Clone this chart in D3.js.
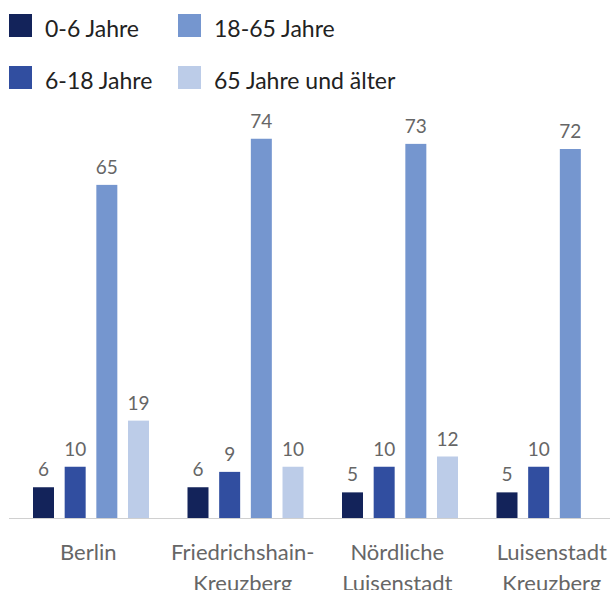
<!DOCTYPE html>
<html>
<head>
<meta charset="utf-8">
<script src="https://cdn.jsdelivr.net/npm/d3@7"></script>
<style>
  body { margin: 0; background: #fff; }
  svg { display: block; font-family: Lato, "Open Sans", sans-serif; }
</style>
</head>
<body>
<svg id="chart" width="610" height="590"></svg>
<script>
// categories (two text lines each)
var categories = ["Berlin", "Friedrichshain-Kreuzberg", "Nördliche Luisenstadt", "Luisenstadt Kreuzberg"];
var categoryLines = [["Berlin"], ["Friedrichshain-", "Kreuzberg"], ["Nördliche", "Luisenstadt"], ["Luisenstadt", "Kreuzberg"]];

// age groups
var series = ["0-6 Jahre", "6-18 Jahre", "18-65 Jahre", "65 Jahre und älter"];
var colors = ["#13235a", "#314ea0", "#7596cf", "#bccce8"];

// share in percent, per category
var age0to6   = [6, 6, 5, 5];
var age6to18  = [10, 9, 10, 10];
var age18to65 = [65, 74, 73, 72];
var age65plus = [19, 10, 12, null];

var values = [age0to6, age6to18, age18to65, age65plus];

var svg = d3.select("#chart");

var baseline = 518;

var x0 = d3.scaleBand()
    .domain(categories)
    .range([11, 629]);

var x1 = d3.scaleBand()
    .domain(series)
    .range([0, 116])
    .paddingInner(0.337);

var y = d3.scaleLinear()
    .domain([0, 80])
    .range([baseline, baseline - 410]);

// build rows
var rows = [];
categories.forEach(function(c, i) {
    series.forEach(function(s, j) {
        if (values[j][i] != null) {
            rows.push({cat: c, ser: s, idx: j, v: values[j][i]});
        }
    });
});

// bars
var g = svg.append("g");
g.selectAll("rect.bar")
    .data(rows)
    .enter().append("rect")
    .attr("class", "bar")
    .attr("x", function(d) { return x0(d.cat) + 22 + x1(d.ser); })
    .attr("y", function(d) { return y(d.v); })
    .attr("width", x1.bandwidth())
    .attr("height", function(d) { return baseline - y(d.v); })
    .style("fill", function(d) { return colors[d.idx]; });

// value labels
g.selectAll("text.val")
    .data(rows)
    .enter().append("text")
    .attr("class", "val")
    .attr("x", function(d) { return x0(d.cat) + 22 + x1(d.ser) + x1.bandwidth() / 2; })
    .attr("y", function(d) { return y(d.v) - 11; })
    .attr("text-anchor", "middle")
    .style("font-size", "19px")
    .style("fill", "#666")
    .text(function(d) { return d.v; });

// axis line
svg.append("line")
    .attr("x1", 9).attr("x2", 610)
    .attr("y1", baseline + 0.5).attr("y2", baseline + 0.5)
    .style("stroke", "#d0d0d0")
    .style("stroke-width", 1);

// category labels
var cl = svg.selectAll("text.cat")
    .data(categories)
    .enter().append("text")
    .attr("class", "cat")
    .attr("x", function(d) { return x0(d) + x0.bandwidth() / 2; })
    .attr("y", 560)
    .attr("text-anchor", "middle")
    .style("font-size", "22px")
    .style("fill", "#666");

cl.selectAll("tspan")
    .data(function(d, i) { return categoryLines[i]; })
    .enter().append("tspan")
    .attr("x", function() { return d3.select(this.parentNode).attr("x"); })
    .attr("dy", function(d, i) { return i === 0 ? 0 : 31; })
    .text(function(d) { return d; });

// legend
var legendPos = [[9, 14], [9, 66], [178, 14], [178, 66]];
var leg = svg.selectAll("g.leg")
    .data(series)
    .enter().append("g")
    .attr("class", "leg")
    .attr("transform", function(d, i) { return "translate(" + legendPos[i][0] + "," + legendPos[i][1] + ")"; });

leg.append("rect")
    .attr("width", 23).attr("height", 23)
    .style("fill", function(d, i) { return colors[i]; });

leg.append("text")
    .attr("x", 36)
    .attr("y", 23)
    .style("font-size", "23px")
    .style("fill", "#222")
    .text(function(d) { return d; });
</script>
</body>
</html>
